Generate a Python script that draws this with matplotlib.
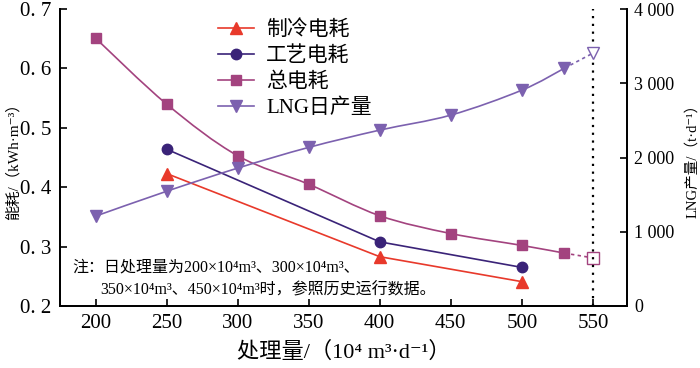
import numpy as np
import matplotlib
matplotlib.use("Agg")
import matplotlib.pyplot as plt
from matplotlib.path import Path
from matplotlib.patches import PathPatch
from matplotlib.lines import Line2D

plt.rcParams['font.family'] = ['Liberation Serif', 'Noto Sans CJK SC', 'DejaVu Sans']

# data
x_cool = [250, 400, 500]
cool = [0.423, 0.283, 0.241]          # 制冷电耗
x_proc = [250, 400, 500]
proc = [0.464, 0.308, 0.265]          # 工艺电耗
x_total = [200, 250, 300, 350, 400, 450, 500, 530]
total = [0.651, 0.540, 0.453, 0.405, 0.352, 0.322, 0.302, 0.289]   # 总电耗
x_lng = [200, 250, 300, 350, 400, 450, 500, 530]
lng = [1210, 1545, 1857, 2136, 2369, 2571, 2907, 3203]              # LNG日产量
x_pred = 550
total_pred = 0.281
lng_pred = 3405

c_cool = '#e8392b'
c_proc = '#3a2378'
c_total = '#a3437f'
c_lng = '#7c61af'


def smooth_path(xs, ys):
    # catmull-rom -> cubic bezier, drawn by matplotlib Path
    xs = np.asarray(xs, float)
    ys = np.asarray(ys, float)
    verts = [(xs[0], ys[0])]
    codes = [Path.MOVETO]
    n = len(xs)
    for i in range(n - 1):
        i0 = max(i - 1, 0)
        i3 = min(i + 2, n - 1)
        c1 = (xs[i] + (xs[i + 1] - xs[i0]) / 6, ys[i] + (ys[i + 1] - ys[i0]) / 6)
        c2 = (xs[i + 1] - (xs[i3] - xs[i]) / 6, ys[i + 1] - (ys[i3] - ys[i]) / 6)
        verts += [c1, c2, (xs[i + 1], ys[i + 1])]
        codes += [Path.CURVE4] * 3
    return Path(verts, codes)


fig = plt.figure(figsize=(7, 3.68), dpi=100)
ax = fig.add_axes([0.0857, 0.1685, 0.81, 0.807])
ax2 = ax.twinx()

ax.set_xlim(175, 574)
ax.set_ylim(0.2, 0.7)
ax2.set_ylim(0, 4000)

# total, smooth
ax.add_patch(PathPatch(smooth_path(x_total, total), fill=False, ec=c_total, lw=1.2))
ax.plot(x_total, total, ls='none', marker='s', ms=7.5, color=c_total)
ax.plot([x_total[-1], x_pred], [total[-1], total_pred], ls=(0, (2, 2)), color=c_total, lw=1.2)
ax.plot([x_pred], [total_pred], ls='none', marker='s', ms=8, mfc='white', mec=c_total, mew=1)

ax.plot(x_proc, proc, marker='o', ms=7.5, color=c_proc, lw=1.2)
ax.plot(x_cool, cool, marker='^', ms=9, color=c_cool, lw=1.2)

ax2.add_patch(PathPatch(smooth_path(x_lng, lng), fill=False, ec=c_lng, lw=1.2))
ax2.plot(x_lng, lng, ls='none', marker='v', ms=9, color=c_lng)
ax2.plot([x_lng[-1], x_pred], [lng[-1], lng_pred], ls=(0, (2, 2)), color=c_lng, lw=1.2)
ax2.plot([x_pred], [lng_pred], ls='none', marker='v', ms=9, mfc='white', mec=c_lng, mew=1)

ax.axvline(550, color='black', ls=(0, (1, 2.5)), lw=1.6)

ax.set_xticks([200, 250, 300, 350, 400, 450, 500, 550])
ax.set_yticks([0.2, 0.3, 0.4, 0.5, 0.6, 0.7])
ax.set_yticklabels(['0. 2', '0. 3', '0. 4', '0. 5', '0. 6', '0. 7'])
ax2.set_yticks([0, 1000, 2000, 3000, 4000])
ax2.set_yticklabels(['0', '1 000', '2 000', '3 000', '4 000'])

for a in (ax, ax2):
    a.spines['top'].set_visible(False)
    for s in a.spines.values():
        s.set_linewidth(1.3)
ax.tick_params(axis='both', direction='in', length=5, width=1.2, labelsize=15, pad=6)
ax2.tick_params(axis='y', direction='in', length=5, width=1.2, labelsize=13, pad=5)

ax.set_xlabel('处理量/（10⁴ m³·d⁻¹）', fontsize=16, labelpad=6)
ax.set_ylabel('能耗/（kWh·m⁻³）', fontsize=11, labelpad=0)
ax2.set_ylabel('LNG产量/（t·d⁻¹）', fontsize=10.5, labelpad=8, rotation=90)

ax.text(184, 0.258, '注：日处理量为200×10⁴m³、300×10⁴m³、', fontsize=11.5)
ax.text(203, 0.219, '350×10⁴m³、450×10⁴m³时，参照历史运行数据。', fontsize=11.5)

handles = [
    Line2D([], [], color=c_cool, marker='^', ms=9, lw=1.2),
    Line2D([], [], color=c_proc, marker='o', ms=7.5, lw=1.2),
    Line2D([], [], color=c_total, marker='s', ms=7.5, lw=1.2),
    Line2D([], [], color=c_lng, marker='v', ms=9, lw=1.2),
]
labels = ['制冷电耗', '工艺电耗', '总电耗', 'LNG日产量']
fig.legend(handles, labels, loc='upper left', bbox_to_anchor=(0.285, 0.995), frameon=False,
           fontsize=15, handlelength=1.7, handletextpad=0.6, labelspacing=0.3)

fig.savefig('out.png', dpi=100)
